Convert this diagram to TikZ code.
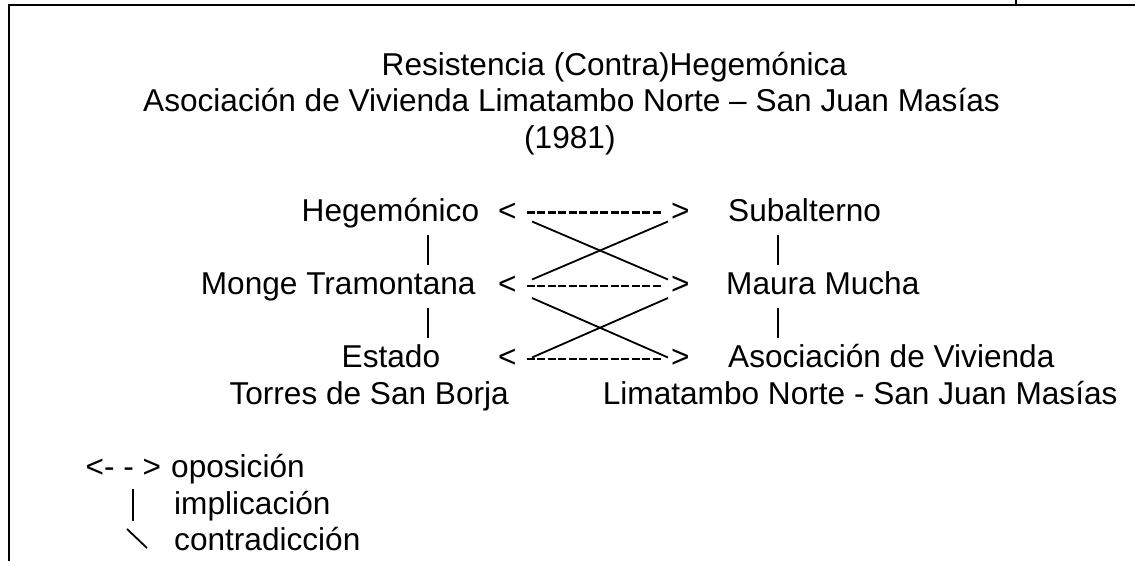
\documentclass[tikz,border=0pt]{standalone}
\usepackage{fontspec}
\setmainfont{Liberation Sans}

\begin{document}
\begin{tikzpicture}[x=1pt,y=-1pt,
    txt/.style={anchor=base west,inner sep=0pt,font=\fontsize{31.6}{37}\selectfont},
    tip/.style={anchor=base,inner xsep=10.2pt,inner ysep=0pt,font=\fontsize{31.6}{37}\selectfont},
    opp/.style={line width=2.6pt,dash pattern=on 7.7pt off 2.8pt},
    impl/.style={line width=2.6pt},
    contra/.style={line width=1.8pt}]
    \useasboundingbox (0,0) rectangle (1135,560);
    \draw[line width=1.8pt] (1140,5) -- (8.8,5) -- (8.8,565);
    \draw[line width=2pt] (1016,0) -- (1016,5);

    \node[txt] (tit1) at (381.5,75) {Resistencia (Contra)Hegemónica};
    \node[txt] (tit2) at (143,111.6) {Asociación de Vivienda Limatambo Norte – San Juan Masías};
    \node[txt] (tit3) at (524,148.2) {(1981)};

    \node[txt] (heg) at (301.5,221.4) {Hegemónico};
    \node[txt] (monge) at (200.7,294.6) {Monge Tramontana};
    \node[txt] (estado) at (341.5,367.8) {Estado};
    \node[txt] (torres) at (229.3,404.4) {Torres de San Borja};

    \node[txt] (sub) at (728,221.4) {Subalterno};
    \node[txt] (maura) at (726,294.6) {Maura Mucha};
    \node[txt] (asoc) at (728,367.8) {Asociación de Vivienda};
    \node[txt] (lima) at (602.7,404.4) {Limatambo Norte - San Juan Masías};

    \node[tip] (lt1) at (507.3,221.4) {<};
    \node[tip] (gt1) at (680.3,221.4) {>};
    \node[tip] (lt2) at (507.3,294.6) {<};
    \node[tip] (gt2) at (680.3,294.6) {>};
    \node[tip] (lt3) at (507.3,367.8) {<};
    \node[tip] (gt3) at (680.3,367.8) {>};

    \foreach \from/\to in {lt1/gt1,lt2/gt2,lt3/gt3}
        \draw[opp] ([yshift=8.7pt]\from.base east) -- ([yshift=8.7pt]\to.base west);

    \coordinate (ca1) at (532,221.5);
    \coordinate (cb1) at (668,279.5);
    \coordinate (ca2) at (532,279.5);
    \coordinate (cb2) at (668,221.5);
    \coordinate (ca3) at (532,298);
    \coordinate (cb3) at (668,357.5);
    \coordinate (ca4) at (532,357.5);
    \coordinate (cb4) at (668,298);
    \foreach \from/\to in {ca1/cb1,ca2/cb2,ca3/cb3,ca4/cb4}
        \draw[contra] (\from)--(\to);

    \coordinate (ia1) at (428,235);
    \coordinate (ib1) at (428,264.6);
    \coordinate (ia2) at (428,308.2);
    \coordinate (ib2) at (428,337.8);
    \coordinate (ia3) at (778,235);
    \coordinate (ib3) at (778,264.6);
    \coordinate (ia4) at (778,308.2);
    \coordinate (ib4) at (778,337.8);
    \foreach \from/\to in {ia1/ib1,ia2/ib2,ia3/ib3,ia4/ib4}
        \draw[impl] (\from)--(\to);

    \node[txt] (leg1s) at (85.5,477.6) {<- - >};
    \node[txt] (leg1) at (171,477.6) {oposición};
    \node[txt] (leg2) at (174,514.2) {implicación};
    \node[txt] (leg3) at (174,550.8) {contradicción};
    \coordinate (la2) at (133,489);
    \coordinate (lb2) at (133,521);
    \coordinate (la3) at (127,529);
    \coordinate (lb3) at (147,548);
    \draw[impl] (la2)--(lb2);
    \draw[contra] (la3)--(lb3);
\end{tikzpicture}
\end{document}
